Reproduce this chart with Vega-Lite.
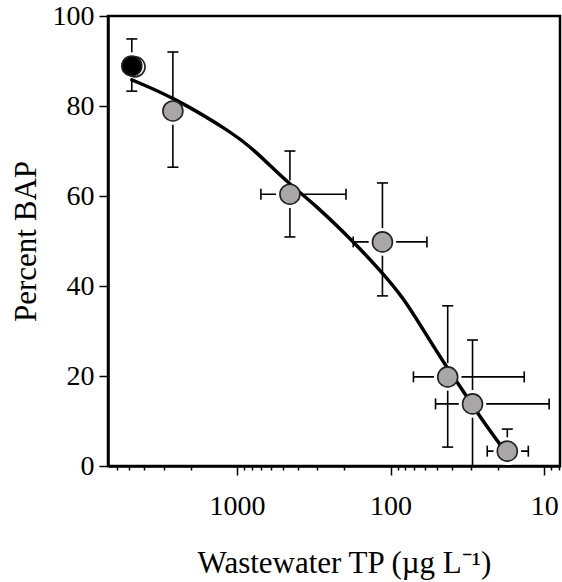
{
  "$schema": "https://vega.github.io/schema/vega-lite/v6.json",
  "width": 452,
  "height": 450,
  "autosize": "none",
  "padding": {"left": 108, "top": 16, "right": 2, "bottom": 116},
  "background": "white",
  "config": {
    "view": {"stroke": "black", "strokeWidth": 2.5},
    "axis": {
      "labelFont": "Liberation Serif",
      "titleFont": "Liberation Serif",
      "labelFontSize": 28,
      "titleFontSize": 31,
      "titleFontWeight": "normal",
      "labelColor": "black",
      "titleColor": "black",
      "domainColor": "black",
      "domainWidth": 2.5,
      "tickColor": "black",
      "tickWidth": 1.5,
      "grid": false
    }
  },
  "datasets": {
    "pts": [
      {"group": "open", "tp": 4600, "bap": 88.7},
      {"group": "dark", "tp": 4830, "bap": 88.9, "ylo": 83.3, "yhi": 94.9},
      {"group": "shaded", "tp": 2610, "bap": 78.9, "ylo": 66.4, "yhi": 92.0},
      {"group": "shaded", "tp": 452, "bap": 60.4, "ylo": 50.9, "yhi": 70.0, "xlo": 698, "xhi": 195},
      {"group": "shaded", "tp": 113, "bap": 49.8, "ylo": 37.8, "yhi": 62.9, "xlo": 175, "xhi": 58},
      {"group": "shaded", "tp": 42.5, "bap": 19.8, "ylo": 4.2, "yhi": 35.6, "xlo": 71, "xhi": 13.5},
      {"group": "shaded", "tp": 29.3, "bap": 13.8, "ylo": 0, "yhi": 28.0, "xlo": 51, "xhi": 9.3},
      {"group": "shaded", "tp": 17.4, "bap": 3.3, "ylo": 3.3, "yhi": 8.2, "xlo": 23.5, "xhi": 12.7}
    ],
    "curve": [
      {"tp": 4830, "bap": 85.8},
      {"tp": 2610, "bap": 82.0},
      {"tp": 1062, "bap": 74.0},
      {"tp": 787, "bap": 70.5},
      {"tp": 452, "bap": 62.5},
      {"tp": 320, "bap": 58.5},
      {"tp": 176, "bap": 50.0},
      {"tp": 117, "bap": 43.5},
      {"tp": 83, "bap": 37.5},
      {"tp": 61.9, "bap": 30.5},
      {"tp": 43.3, "bap": 22.0},
      {"tp": 35.4, "bap": 17.8},
      {"tp": 26.2, "bap": 10.9},
      {"tp": 19.3, "bap": 4.7}
    ]
  },
  "encoding": {
    "x": {
      "field": "tp",
      "type": "quantitative",
      "scale": {"type": "log", "domain": [7.9, 6900], "reverse": true, "nice": false},
      "axis": {
        "title": "Wastewater TP (µg L⁻¹)",
        "values": [8, 9, 10, 20, 30, 40, 50, 60, 70, 80, 90, 100, 200, 300, 400, 500, 600, 700, 800, 900, 1000, 2000, 3000, 4000, 5000, 6000],
        "labelExpr": "datum.value == 10 || datum.value == 100 || datum.value == 1000 ? datum.value + '' : ''",
        "tickSize": {"condition": {"test": "datum.value == 10 || datum.value == 100 || datum.value == 1000", "value": 9}, "value": 4},
        "labelPadding": 17,
        "titlePadding": 28,
        "titleX": 236,
        "labelFlush": false,
        "labelOverlap": false
      }
    },
    "y": {
      "field": "bap",
      "type": "quantitative",
      "scale": {"domain": [0, 100], "nice": false},
      "axis": {
        "title": "Percent BAP",
        "values": [0, 20, 40, 60, 80, 100],
        "tickSize": 9,
        "labelPadding": 5,
        "titlePadding": 10
      }
    }
  },
  "layer": [
    {
      "data": {"name": "pts"},
      "transform": [{"filter": "isValid(datum.ylo)"}],
      "mark": {"type": "rule", "color": "black", "strokeWidth": 1.6},
      "encoding": {"y": {"field": "ylo", "type": "quantitative"}, "y2": {"field": "yhi"}}
    },
    {
      "data": {"name": "pts"},
      "transform": [{"filter": "isValid(datum.xlo)"}],
      "mark": {"type": "rule", "color": "black", "strokeWidth": 1.6},
      "encoding": {"x": {"field": "xlo", "type": "quantitative"}, "x2": {"field": "xhi"}}
    },
    {
      "data": {"name": "pts"},
      "transform": [{"filter": "isValid(datum.yhi)"}],
      "mark": {"type": "tick", "orient": "horizontal", "color": "black", "size": 11, "thickness": 1.6, "opacity": 1},
      "encoding": {"y": {"field": "yhi", "type": "quantitative"}}
    },
    {
      "data": {"name": "pts"},
      "transform": [{"filter": "isValid(datum.ylo)"}],
      "mark": {"type": "tick", "orient": "horizontal", "color": "black", "size": 11, "thickness": 1.6, "opacity": 1},
      "encoding": {"y": {"field": "ylo", "type": "quantitative"}}
    },
    {
      "data": {"name": "pts"},
      "transform": [{"filter": "isValid(datum.xlo)"}],
      "mark": {"type": "tick", "orient": "vertical", "color": "black", "size": 11, "thickness": 1.6, "opacity": 1},
      "encoding": {"x": {"field": "xlo", "type": "quantitative"}}
    },
    {
      "data": {"name": "pts"},
      "transform": [{"filter": "isValid(datum.xhi)"}],
      "mark": {"type": "tick", "orient": "vertical", "color": "black", "size": 11, "thickness": 1.6, "opacity": 1},
      "encoding": {"x": {"field": "xhi", "type": "quantitative"}}
    },
    {
      "data": {"name": "pts"},
      "mark": {"type": "circle", "color": "white", "opacity": 1, "size": 760},
      "encoding": {}
    },
    {
      "data": {"name": "curve"},
      "mark": {"type": "line", "color": "black", "strokeWidth": 3.5, "interpolate": "basis", "strokeCap": "round"},
      "encoding": {}
    },
    {
      "data": {"name": "pts"},
      "mark": {"type": "circle", "opacity": 1, "size": 400, "stroke": "#222222", "strokeWidth": 1.6},
      "encoding": {
        "color": {
          "field": "group",
          "type": "nominal",
          "scale": {"domain": ["dark", "open", "shaded"], "range": ["#000000", "#ffffff", "#aaa6a8"]},
          "legend": null
        }
      }
    }
  ]
}
